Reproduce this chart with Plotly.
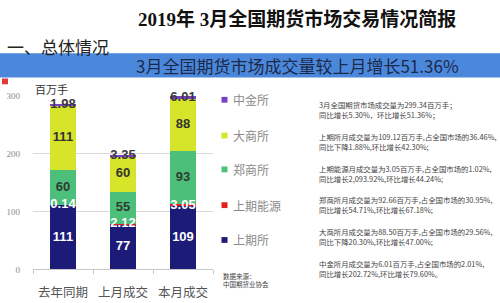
import plotly.graph_objects as go

W, H = 500, 303
def px(x): return x / W
def py(y): return 1 - y / H

# ---------------- data ----------------
categories = ["去年同期", "上月成交", "本月成交"]
series_names = ["上期所", "上期能源", "郑商所", "大商所", "中金所"]
shfe = [111, 77, 109]
ine = [0.14, 2.12, 3.05]
czce = [60, 55, 93]
dce = [111, 60, 88]
cffex = [1.98, 3.35, 6.01]
series_values = [shfe, ine, czce, dce, cffex]
y_ticks = [0, 100, 200, 300]

title_text = "2019年 3月全国期货市场交易情况简报"
section_text = "一、总体情况"
banner_text = "3月全国期货市场成交量较上月增长51.36%"
unit_text = "百万手"
source_lines = ["数据来源：", "中国期货业协会"]
notes = [
    ["3月全国期货市场成交量为299.34百万手；", "同比增长5.30%，环比增长51.36%；"],
    ["上期所月成交量为109.12百万手,占全国市场的36.46%,", "同比下降1.88%,环比增长42.30%;"],
    ["上期能源月成交量为3.05百万手,占全国市场的1.02%,", "同比增长2,093.92%,环比增长44.24%;"],
    ["郑商所月成交量为92.66百万手,占全国市场的30.95%,", "同比增长54.71%,环比增长67.18%;"],
    ["大商所月成交量为88.50百万手,占全国市场的29.56%,", "同比下降20.30%,环比增长47.00%;"],
    ["中金所月成交量为6.01百万手,占全国市场的2.01%,", "同比增长202.72%,环比增长79.60%。"],
]

# ---------------- styles ----------------
colors = ["#1d1b78", "#e41e1e", "#4cc07a", "#d6e42a", "#7a3fc4"]
label_colors = ["#ffffff", "#ffffff", "#2f3a33", "#333333", "#3a3a3a"]
label_fmt = ["{:.0f}", "{:.2f}", "{:.0f}", "{:.0f}", "{:.2f}"]
CJK = "Noto Sans CJK SC, sans-serif"
LBL = "Liberation Sans, Arial, sans-serif"

fig = go.Figure()
for name, vals, col in zip(series_names, series_values, colors):
    fig.add_trace(go.Bar(x=categories, y=vals, name=name, marker=dict(color=col, line=dict(width=0)),
                         showlegend=False, hoverinfo="skip"))

# labels overlay (drawn above all bars)
base = [0.0] * len(categories)
for i, (vals, lc, fmt) in enumerate(zip(series_values, label_colors, label_fmt)):
    mids = [b + v / 2 for b, v in zip(base, vals)]
    fig.add_trace(go.Scatter(x=categories, y=mids, mode="text",
                             text=[fmt.format(v) for v in vals],
                             textfont=dict(family=LBL, size=13, color=lc, weight="bold"),
                             showlegend=False, hoverinfo="skip", cliponaxis=False))
    base = [b + v for b, v in zip(base, vals)]

fig.update_layout(
    width=W, height=H, margin=dict(l=0, r=0, t=0, b=0),
    paper_bgcolor="white", plot_bgcolor="white",
    barmode="stack", bargap=0.56, showlegend=False,
    xaxis=dict(domain=[px(33), px(213)], showline=True, linecolor="#c8c8c8", linewidth=1,
               ticks="outside", tickson="boundaries", ticklen=4, tickcolor="#c8c8c8",
               tickfont=dict(family=CJK, size=12.5, color="#555555"), ticklabelstandoff=12),
    yaxis=dict(domain=[py(273.5), py(93.5)], range=[0, 300], tickvals=y_ticks,
               showgrid=True, gridcolor="#d9d9d9", gridwidth=1, zeroline=False,
               tickfont=dict(family="Liberation Serif, serif", size=9, color="#888888"),
               ticklabelstandoff=12),
)

shapes = []
ann = []
# banner
shapes.append(dict(type="rect", xref="paper", yref="paper", x0=0, x1=1, y0=py(75), y1=py(50),
                   fillcolor="#4b88dc", line=dict(width=0), layer="above"))
# small red icon
shapes.append(dict(type="rect", xref="paper", yref="paper", x0=px(2), x1=px(8), y0=py(82), y1=py(76),
                   fillcolor="#e03a3a", line=dict(width=0)))

def add_text(text, x, y, size, color, family=CJK, xanchor="left", weight="normal", **kw):
    ann.append(dict(text=text, x=px(x), y=py(y), xref="paper", yref="paper", xanchor=xanchor,
                    yanchor="middle", showarrow=False,
                    font=dict(family=family, size=size, color=color, weight=weight), **kw))

add_text(title_text, 297, 14, 19, "#111111", family="Liberation Serif, Noto Sans CJK SC, serif",
         xanchor="center", weight="bold")
add_text(section_text, 5, 43, 17, "#222222")
add_text(banner_text, 297, 63, 17, "#1c2a4a", xanchor="center")
add_text(unit_text, 34, 86.5, 11, "#333333", bgcolor="white", borderpad=0)

# manual legend (top: 中金所 ... bottom: 上期所)
leg_y = [243, 207, 170, 135, 98]
for name, col, yy in zip(series_names, colors, leg_y):
    shapes.append(dict(type="rect", xref="paper", yref="paper", x0=px(221.5), x1=px(227.5),
                       y0=py(yy + 3), y1=py(yy - 3), fillcolor=col, line=dict(width=0)))
    add_text(name, 231, yy, 12, "#8a8a8a")

add_text("<br>".join(source_lines), 221, 284, 6.5, "#444444", align="left")

note_y = [108.5, 141.5, 174, 206.5, 239.5, 272.5]
for lines, yy in zip(notes, note_y):
    add_text("<br>".join(lines), 317, yy, 7.4, "#444444", align="left")

fig.update_layout(shapes=shapes, annotations=ann)
fig.write_html("out.html")
